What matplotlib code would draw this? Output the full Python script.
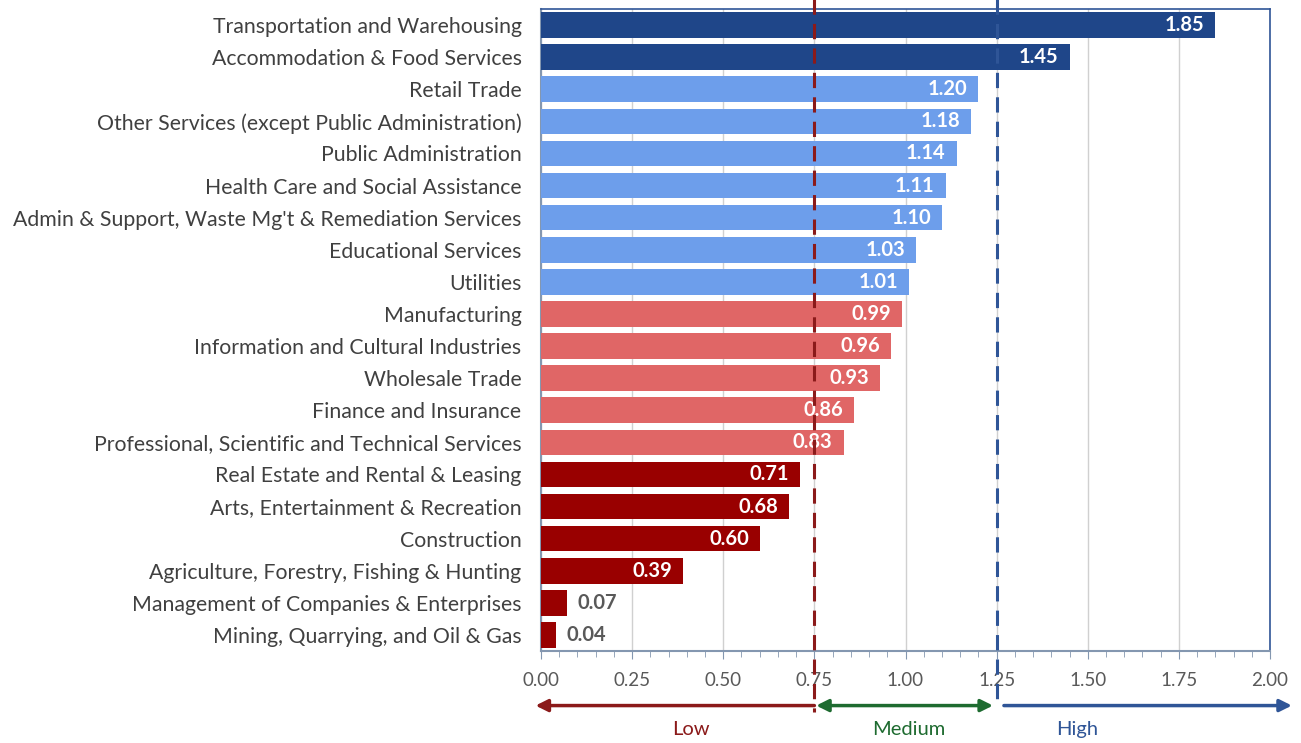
import matplotlib
matplotlib.use("Agg")
import matplotlib.pyplot as plt
import numpy as np

categories = [
    "Transportation and Warehousing",
    "Accommodation & Food Services",
    "Retail Trade",
    "Other Services (except Public Administration)",
    "Public Administration",
    "Health Care and Social Assistance",
    "Admin & Support, Waste Mg't & Remediation Services",
    "Educational Services",
    "Utilities",
    "Manufacturing",
    "Information and Cultural Industries",
    "Wholesale Trade",
    "Finance and Insurance",
    "Professional, Scientific and Technical Services",
    "Real Estate and Rental & Leasing",
    "Arts, Entertainment & Recreation",
    "Construction",
    "Agriculture, Forestry, Fishing & Hunting",
    "Management of Companies & Enterprises",
    "Mining, Quarrying, and Oil & Gas",
]
values = [1.85, 1.45, 1.20, 1.18, 1.14, 1.11, 1.10, 1.03, 1.01, 0.99,
          0.96, 0.93, 0.86, 0.83, 0.71, 0.68, 0.60, 0.39, 0.07, 0.04]
groups = ["vhigh"] * 2 + ["high"] * 7 + ["med"] * 5 + ["low"] * 6
xticks = [0.0, 0.25, 0.5, 0.75, 1.0, 1.25, 1.5, 1.75, 2.0]
thresholds = [0.75, 1.25]
zone_labels = ["Low", "Medium", "High"]

colors = {"vhigh": "#1F4689", "high": "#6D9EEB", "med": "#E06666", "low": "#990000"}

plt.rcParams['font.family'] = ['Lato', 'DejaVu Sans']

fig = plt.figure(figsize=(13.01, 7.43), dpi=100)
W, H = 1301, 743
ax = fig.add_axes([541 / W, 1 - 651 / H, (1270 - 541) / W, (651 - 9) / H])

y = np.arange(len(categories))
ax.barh(y, values, height=0.8, color=[colors[g] for g in groups], zorder=3)
ax.set_ylim(len(categories) - 0.5, -0.5)
ax.set_xlim(0, 2.0)
ax.set_yticks(y)
ax.set_yticklabels(categories, fontsize=15.3, color="#404040")
ax.tick_params(axis='y', length=0, pad=14)
ax.set_xticks(xticks)
ax.set_xticklabels([f"{t:.2f}" for t in xticks], fontsize=13.5, color="#595959")
ax.set_xticks(np.arange(0, 2.0001, 0.05), minor=True)
ax.tick_params(axis='x', which='major', length=6, color="#8497B0", pad=9, direction='out')
ax.tick_params(axis='x', which='minor', length=4, color="#8497B0", direction='out')
ax.grid(axis='x', which='major', color="#D0D0D0", linewidth=1, zorder=0)

for side in ['top', 'right']:
    ax.spines[side].set_color("#2F5597")
    ax.spines[side].set_linewidth(1.2)
for side in ['left', 'bottom']:
    ax.spines[side].set_color("#8497B0")
    ax.spines[side].set_linewidth(1.5)

for yi, v in zip(y, values):
    if v >= 0.2:
        ax.text(v - 0.03, yi, f"{v:.2f}", ha='right', va='center', color='white',
                fontsize=14.5, fontweight='bold', zorder=5)
    else:
        ax.text(v + 0.03, yi, f"{v:.2f}", ha='left', va='center', color='#595959',
                fontsize=14.5, fontweight='bold', zorder=5)

# threshold dashed lines extending beyond the axes
trans = ax.get_xaxis_transform()
ax.plot([thresholds[0]] * 2, [1.02, -0.095], transform=trans, color="#8B1A1A",
        linestyle=(0, (5, 3)), linewidth=2.2, clip_on=False, zorder=6)
ax.plot([thresholds[1]] * 2, [1.02, -0.08], transform=trans, color="#2F5597",
        linestyle=(0, (5, 3)), linewidth=2.2, clip_on=False, zorder=6)

# zone arrows
ya = -0.085
arrowkw = dict(arrowstyle='-|>', lw=2.5, mutation_scale=18, shrinkA=0, shrinkB=0)
ax.annotate("", xy=(-0.015, ya), xytext=(thresholds[0], ya), xycoords=trans, textcoords=trans,
            arrowprops=dict(color="#8B1A1A", **arrowkw), annotation_clip=False)
ax.annotate("", xy=(thresholds[1] - 0.01, ya), xytext=(thresholds[0] + 0.005, ya), xycoords=trans,
            textcoords=trans,
            arrowprops=dict(arrowstyle='<|-|>', lw=2.5, mutation_scale=18, shrinkA=0, shrinkB=0,
                            color="#1E6B30"), annotation_clip=False)
ax.annotate("", xy=(2.06, ya), xytext=(thresholds[1] + 0.02, ya), xycoords=trans, textcoords=trans,
            arrowprops=dict(color="#2F5597", **arrowkw), annotation_clip=False)

yl = -0.123
ax.text(0.41, yl, zone_labels[0], transform=trans, ha='center', va='center', fontsize=14.5, color="#8B1A1A")
ax.text(1.01, yl, zone_labels[1], transform=trans, ha='center', va='center', fontsize=14.5, color="#1E6B30")
ax.text(1.47, yl, zone_labels[2], transform=trans, ha='center', va='center', fontsize=14.5, color="#2F5597")

fig.savefig("out.png", dpi=100)
